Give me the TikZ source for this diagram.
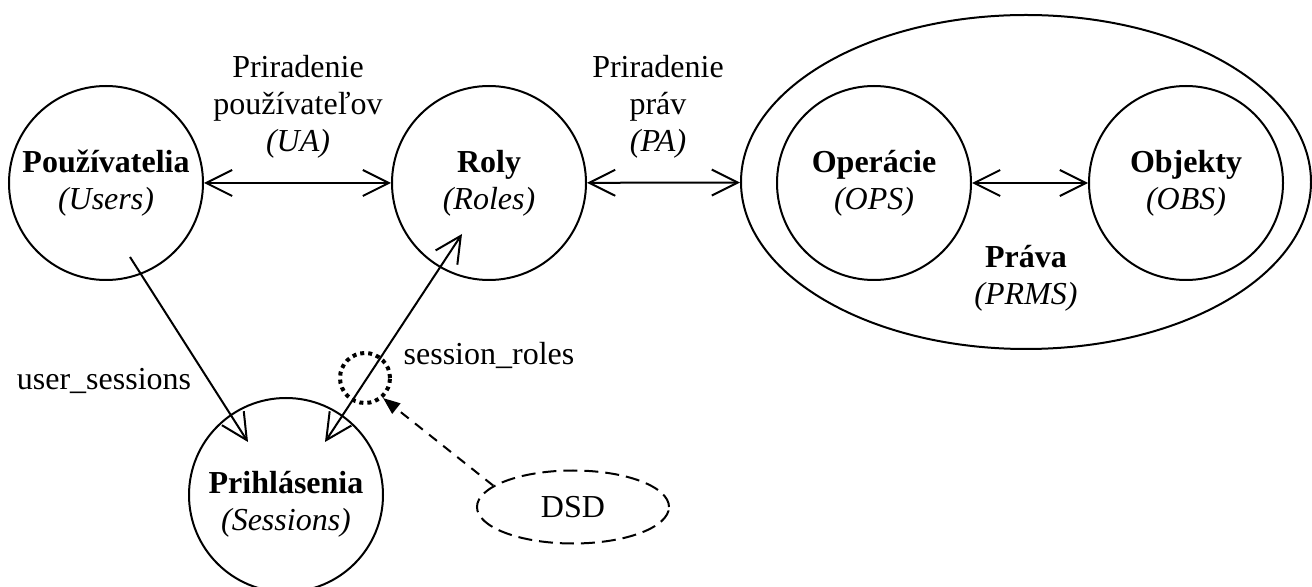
\documentclass[tikz,border=0pt]{standalone}
\usepackage{fontspec}
\setmainfont{Liberation Serif}
\usetikzlibrary{arrows.meta,shapes.geometric,calc}
\begin{document}
\begin{tikzpicture}[x=0.5pt,y=-0.5pt,
  font=\fontsize{16}{18.5}\selectfont,
  >={Straight Barb[length=13pt,width=13pt]},
  set/.style={draw,circle,line width=1pt,minimum size=97pt,inner sep=0pt,align=center},
  lbl/.style={align=center,inner sep=0pt},
  rel/.style={line width=1pt},
  dotring/.style={draw,circle,line width=2pt,dash pattern=on 2pt off 2pt,minimum size=25pt,inner sep=0pt},
  constraint/.style={draw,ellipse,line width=1pt,dash pattern=on 7pt off 3.5pt,minimum width=96pt,minimum height=36.5pt,inner sep=0pt},
  hint/.style={line width=1pt,dash pattern=on 5pt off 4pt,-{Triangle[length=8.5pt,width=6.5pt]}}
]
\useasboundingbox (0,0) rectangle (1312,587);

% entity sets
\node[set] (users) at (106,183) {\textbf{Používatelia}\\\textit{(Users)}};
\node[set] (roles) at (489,183) {\textbf{Roly}\\\textit{(Roles)}};
\node[set] (sess)  at (286,495) {};
\node[lbl] (sesslbl) at (286,504) {\textbf{Prihlásenia}\\\textit{(Sessions)}};

% permissions: operations and objects
\node[draw,ellipse,line width=1pt,minimum width=285pt,minimum height=167pt,inner sep=0pt] (prms) at (1026,182) {};
\node[set] (ops) at (874,183) {\textbf{Operácie}\\\textit{(OPS)}};
\node[set] (obs) at (1186,183) {\textbf{Objekty}\\\textit{(OBS)}};
\node[lbl] (prmslbl) at (1026,278) {\textbf{Práva}\\\textit{(PRMS)}};

% assignments
\draw[rel,<->] (users) -- (roles);
\draw[rel,<->] (roles) -- (prms);
\draw[rel,<->] (ops) -- (obs);
\node[lbl] (ua) at (298,107) {Priradenie\\používateľov\\\textit{(UA)}};
\node[lbl] (pa) at (658,107) {Priradenie\\práv\\\textit{(PA)}};

% sessions
\draw[rel,->] ($(users)+(24,74)$) -- ($(sess)+(-38,-53)$);
\draw[rel,<->] ($(sess)+(39,-53)$) -- ($(roles)+(-27,51)$);
\node[lbl,anchor=base] (us) at (104,390) {user\_sessions};
\node[lbl,anchor=base] (sr) at (489,365) {session\_roles};

% dynamic separation of duty
\node[dotring] (dsdmark) at (365,378) {};
\node[constraint] (dsd) at (573,507) {DSD};
\draw[hint] (dsd.165) -- (dsdmark.-48);
\end{tikzpicture}
\end{document}
